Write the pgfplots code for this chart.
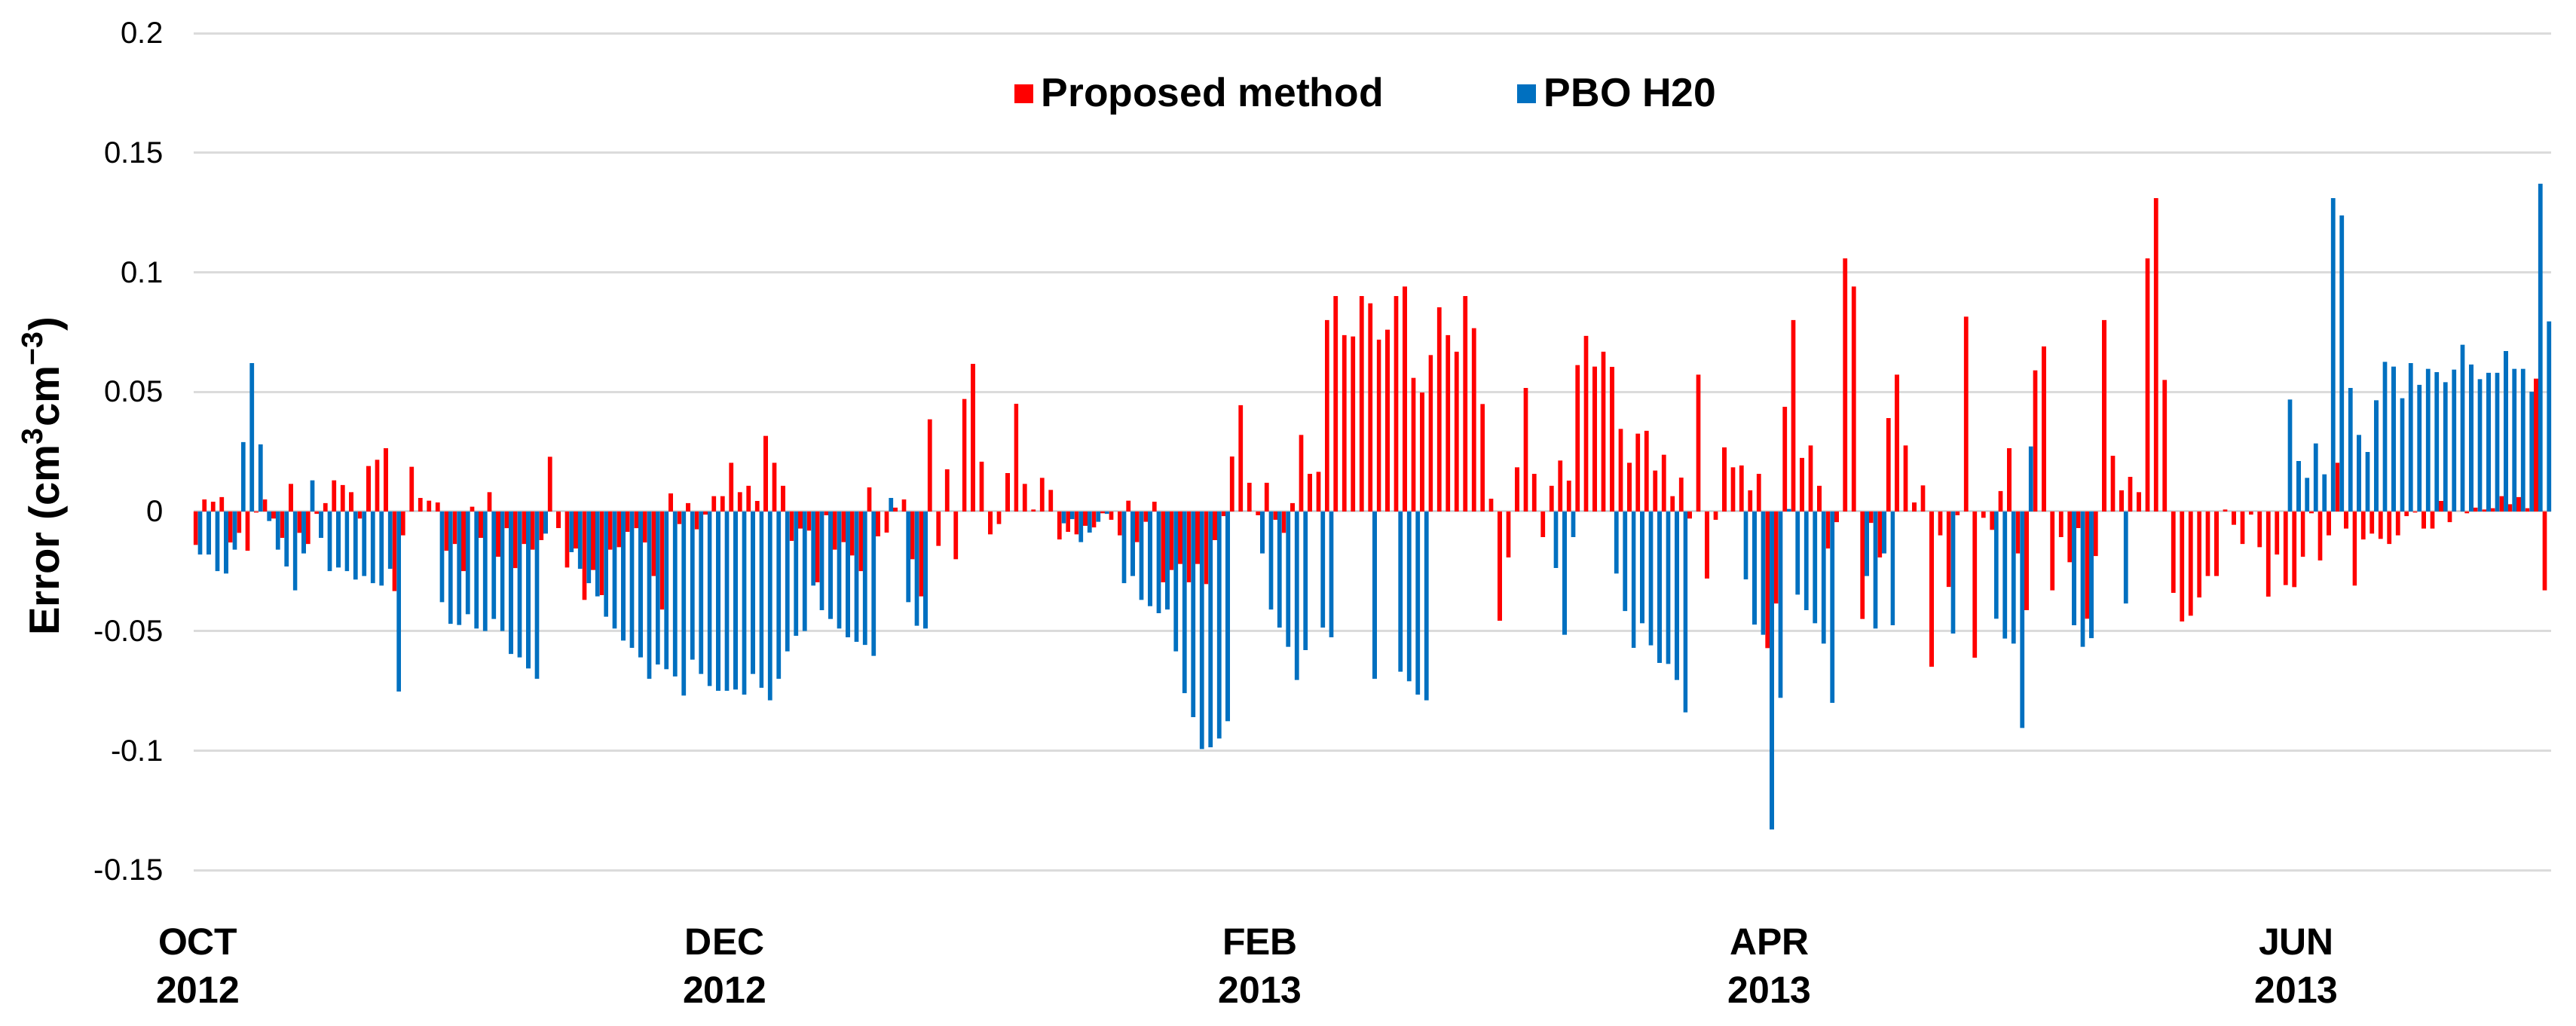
\documentclass[border=0pt]{standalone}
\usepackage{pgfplots}
\pgfplotsset{compat=1.18}
\usepackage{pgfplotstable}
\usepackage{fontspec}
\setmainfont{Liberation Sans}
\definecolor{pred}{HTML}{FF0000}
\definecolor{pblue}{HTML}{0070C0}
\pgfplotstableread{
d R B
1 -0.014 -0.018
2 0.005 -0.018
3 0.004 -0.025
4 0.006 -0.026
5 -0.013 -0.016
6 -0.009 0.029
7 -0.0165 0.062
8 -0.0005 0.028
9 0.005 -0.004
10 -0.003 -0.016
11 -0.011 -0.023
12 0.0115 -0.033
13 -0.009 -0.0176
14 -0.0136 0.013
15 -0.001 -0.011
16 0.0035 -0.025
17 0.013 -0.0235
18 0.011 -0.025
19 0.008 -0.0285
20 -0.003 -0.027
21 0.019 -0.030
22 0.0216 -0.031
23 0.0264 -0.024
24 -0.0333 -0.0753
25 -0.010 0
26 0.0187 0
27 0.0056 0
28 0.0045 0
29 0.0037 -0.038
30 -0.0165 -0.047
31 -0.0136 -0.0475
32 -0.025 -0.043
33 0.002 -0.049
34 -0.011 -0.050
35 0.008 -0.045
36 -0.019 -0.050
37 -0.007 -0.0596
38 -0.0237 -0.061
39 -0.0136 -0.0657
40 -0.016 -0.070
41 -0.012 -0.0093
42 0.0228 0
43 -0.0069 0
44 -0.0235 -0.017
45 -0.0155 -0.024
46 -0.037 -0.030
47 -0.0245 -0.0355
48 -0.035 -0.044
49 -0.016 -0.049
50 -0.015 -0.054
51 -0.0085 -0.057
52 -0.007 -0.061
53 -0.013 -0.070
54 -0.027 -0.064
55 -0.041 -0.066
56 0.0075 -0.069
57 -0.0053 -0.077
58 0.0035 -0.062
59 -0.0075 -0.068
60 -0.0013 -0.073
61 0.0064 -0.075
62 0.0064 -0.075
63 0.0203 -0.0745
64 0.008 -0.0766
65 0.0107 -0.068
66 0.0043 -0.0737
67 0.0316 -0.079
68 0.0203 -0.070
69 0.0107 -0.0585
70 -0.0123 -0.052
71 -0.0072 -0.050
72 -0.008 -0.031
73 -0.0296 -0.0413
74 -0.0016 -0.045
75 -0.016 -0.049
76 -0.0128 -0.0526
77 -0.0184 -0.0545
78 -0.025 -0.0558
79 0.010 -0.0604
80 -0.0104 0
81 -0.0088 0.0056
82 0.0016 0
83 0.005 -0.038
84 -0.020 -0.0478
85 -0.0355 -0.049
86 0.0385 0
87 -0.0144 0
88 0.0176 0
89 -0.020 0
90 0.047 0
91 0.0617 0
92 0.0208 0
93 -0.0096 0
94 -0.0053 0
95 0.016 0
96 0.045 0
97 0.0115 0
98 0.0008 0
99 0.014 0
100 0.009 0
101 -0.0117 -0.005
102 -0.0085 -0.0032
103 -0.0096 -0.0128
104 -0.006 -0.0088
105 -0.0067 -0.0043
106 -0.0008 -0.001
107 -0.0035 0
108 -0.010 -0.030
109 0.0045 -0.027
110 -0.0128 -0.037
111 -0.0043 -0.0396
112 0.004 -0.0425
113 -0.0296 -0.041
114 -0.0245 -0.0585
115 -0.022 -0.076
116 -0.0296 -0.086
117 -0.022 -0.0994
118 -0.0304 -0.0986
119 -0.012 -0.095
120 -0.002 -0.0877
121 0.0229 0
122 0.0444 0
123 0.012 0
124 -0.0016 -0.0176
125 0.012 -0.041
126 -0.0035 -0.0486
127 -0.009 -0.0566
128 0.0035 -0.0705
129 0.032 -0.058
130 0.0157 0
131 0.0165 -0.0486
132 0.080 -0.0526
133 0.090 0
134 0.0737 0
135 0.0732 0
136 0.090 0
137 0.087 -0.070
138 0.0718 0
139 0.076 0
140 0.090 -0.067
141 0.094 -0.071
142 0.0558 -0.0766
143 0.0497 -0.079
144 0.0654 0
145 0.0854 0
146 0.0737 0
147 0.0668 0
148 0.090 0
149 0.0766 0
150 0.0449 0
151 0.0053 0
152 -0.0457 0
153 -0.0192 0
154 0.0184 0
155 0.0516 0
156 0.0157 0
157 -0.0107 0
158 0.0107 -0.0236
159 0.0213 -0.0516
160 0.0128 -0.0107
161 0.0612 0
162 0.0734 0
163 0.0606 0
164 0.0668 0
165 0.0604 -0.026
166 0.0345 -0.0417
167 0.0203 -0.057
168 0.0325 -0.0468
169 0.0337 -0.056
170 0.0171 -0.0633
171 0.0237 -0.0638
172 0.0064 -0.0705
173 0.0141 -0.084
174 -0.003 0
175 0.0572 0
176 -0.028 0
177 -0.0035 0
178 0.0268 0
179 0.0184 0
180 0.0192 -0.0284
181 0.0088 -0.0473
182 0.0157 -0.0516
183 -0.0572 -0.133
184 -0.0385 -0.078
185 0.0437 0.001
186 0.080 -0.0348
187 0.0224 -0.0413
188 0.0276 -0.0468
189 0.0107 -0.0553
190 -0.0155 -0.080
191 -0.0045 0
192 0.1058 0
193 0.094 0
194 -0.045 -0.027
195 -0.0048 -0.049
196 -0.0192 -0.0176
197 0.039 -0.0476
198 0.0572 0
199 0.0276 0
200 0.0037 0
201 0.0109 0
202 -0.065 0
203 -0.010 0
204 -0.0316 -0.051
205 -0.0016 0
206 0.0814 0
207 -0.0612 0
208 -0.0027 0
209 -0.0077 -0.0449
210 0.0085 -0.0532
211 0.0264 -0.0553
212 -0.0176 -0.0906
213 -0.0413 0.0272
214 0.059 0
215 0.069 0
216 -0.033 0
217 -0.0107 0
218 -0.0213 -0.0476
219 -0.0069 -0.0566
220 -0.0449 -0.053
221 -0.0187 0
222 0.080 0
223 0.0232 0
224 0.0088 -0.0385
225 0.0144 0
226 0.008 0
227 0.1058 0
228 0.131 0
229 0.055 0
230 -0.034 0
231 -0.046 0
232 -0.0436 0
233 -0.036 0
234 -0.027 0
235 -0.027 0
236 0.0008 0
237 -0.0056 0
238 -0.0136 0
239 -0.0013 0
240 -0.015 0
241 -0.0356 0
242 -0.018 0
243 -0.0308 0.0468
244 -0.0317 0.021
245 -0.019 0.014
246 -0.0008 0.0284
247 -0.0205 0.0155
248 -0.010 0.131
249 0.0203 0.1237
250 -0.0072 0.0516
251 -0.031 0.032
252 -0.0117 0.0248
253 -0.0093 0.0465
254 -0.0115 0.0625
255 -0.0136 0.0606
256 -0.010 0.0473
257 -0.002 0.062
258 -0.0005 0.0529
259 -0.0072 0.0596
260 -0.0072 0.0582
261 0.0043 0.054
262 -0.0045 0.0593
263 0 0.0697
264 -0.0008 0.0614
265 0.0016 0.0553
266 0.0008 0.058
267 0.0013 0.058
268 0.0064 0.067
269 0.003 0.0596
270 0.006 0.0596
271 0.0013 0.050
272 0.0555 0.137
273 -0.033 0.0795
}\errdata

\begin{document}
\begin{tikzpicture}
\begin{axis}[
  at={(0,0)}, anchor=south west,
  scale only axis, width=31.28cm, height=11.11cm,
  xmin=0.5, xmax=273.5, ymin=-0.15, ymax=0.2,
  ybar, bar width=0.5,
  axis line style={draw=none},
  major tick length=0pt,
  ytick={-0.15,-0.1,-0.05,0,0.05,0.1,0.15,0.2},
  yticklabels={-0.15,-0.1,-0.05,0,0.05,0.1,0.15,0.2},
  xtick={1,62,124,183,244},
  xticklabels={OCT\\2012,DEC\\2012,FEB\\2013,APR\\2013,JUN\\2013},
  ymajorgrids, xmajorgrids=false,
  grid style={line width=0.3mm, color=black!14},
  yticklabel style={font=\fontsize{11.4}{13}\selectfont, inner sep=0pt, anchor=east, xshift=-0.4cm},
  xticklabel style={font=\bfseries\fontsize{14.2}{18.2}\selectfont, align=center, inner sep=0pt, anchor=north, yshift=-0.77cm},
  ylabel={Error (cm\textsuperscript{3}cm\textsuperscript{−3})},
  ylabel style={font=\bfseries\fontsize{16}{19}\selectfont, at={(axis description cs:-0.063,0.4707)}, anchor=center},
  legend image code/.code={\fill[#1] (0cm,-0.12cm) rectangle (0.25cm,0.13cm);},
  legend columns=2,
  legend style={draw=none, fill=none, at={(axis description cs:0.3478,0.9271)}, anchor=west, inner sep=0pt, font=\bfseries\fontsize{15.2}{18}\selectfont,
    /tikz/every odd column/.append style={column sep=0.04cm},
    /tikz/every even column/.append style={column sep=1.7cm}},
]
\addplot[fill=pred, draw=none, bar shift=-0.25] table[x=d, y=R] {\errdata};
\addplot[fill=pblue, draw=none, bar shift=0.25] table[x=d, y=B] {\errdata};
\legend{Proposed method, PBO H20}
\end{axis}
\pgfresetboundingbox
\path (-2.57cm,-2.06cm) rectangle (31.61cm,11.55cm);
\end{tikzpicture}
\end{document}
